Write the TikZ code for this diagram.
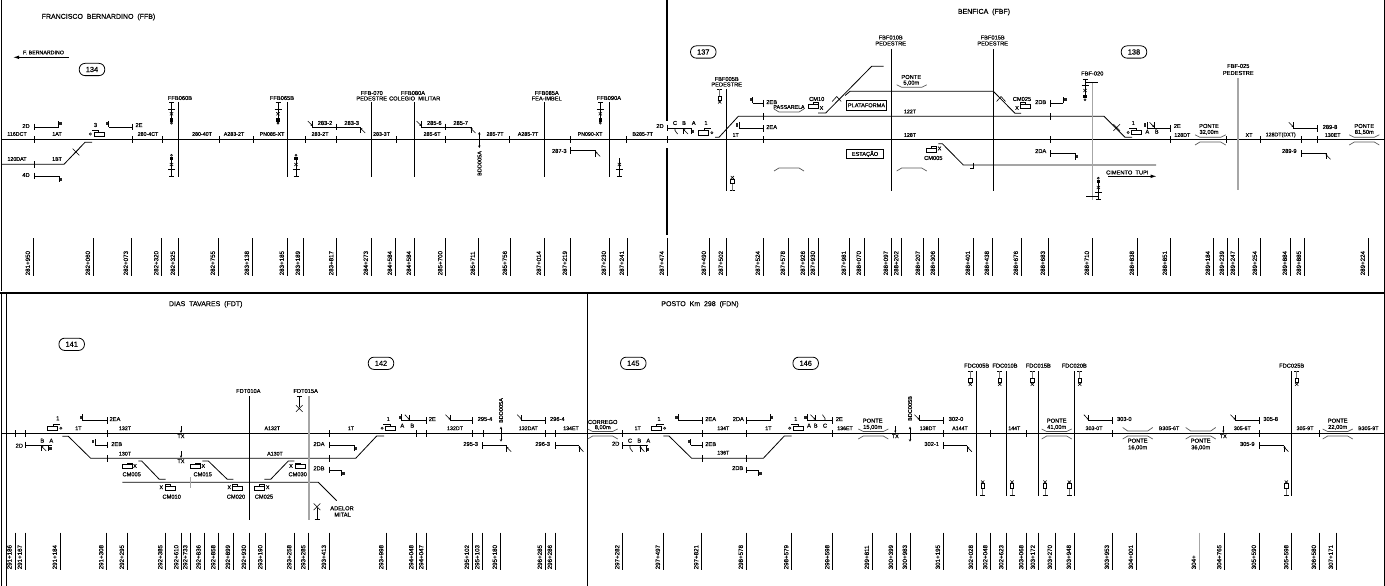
\documentclass[tikz,border=0pt]{standalone}
\usepackage{fontspec}
\setmainfont[FakeBold=0.35]{Liberation Sans}
\usetikzlibrary{arrows.meta}
\newcount\nn
\definecolor{gl}{gray}{0.65}
\tikzset{
  wire/.style={line width=0.8pt,black},
  main/.style={line width=1.1pt,black},
  thin/.style={line width=0.6pt,black},
  gbar/.style={line width=1.5pt,gl},
  gcurve/.style={line width=0.7pt,gray!70!black},
  lab/.style={font=\fontsize{5.3}{5.3}\selectfont,inner sep=0pt},
  tag/.style={font=\fontsize{5.7}{5.7}\selectfont,inner sep=0pt},
  ttl/.style={font=\fontsize{7}{7}\selectfont,inner sep=0pt},
  kml/.style={font=\fontsize{6.2}{6.2}\selectfont,inner sep=0pt,rotate=90,anchor=west},
  oval/.style={draw,line width=0.8pt,rounded corners=5.8pt,minimum width=25.5pt,minimum height=12.3pt,inner sep=0pt,font=\fontsize{7.4}{7.4}\selectfont},
  sqb/.style={draw,line width=0.8pt,inner sep=0pt,font=\fontsize{5.6}{5.6}\selectfont},
  dbl/.style={line width=0.6pt,{Stealth[length=2.5pt,width=2.5pt]}-{Stealth[length=2.5pt,width=2.5pt]}},
}
\newcommand\Tx[4][lab]{\global\advance\nn by 1 \node[#1] (n\the\nn) at (#2,#3) {#4};}
\newcommand\Ov[3]{\global\advance\nn by 1 \node[oval] (n\the\nn) at (#1,#2) {#3};}
\newcommand\KmT[2]{\draw[wire] (#1,238)--(#1,276); \Tx[kml]{#1-5.5}{275.5}{#2}}
\newcommand\KmB[2]{\draw[wire] (#1,532.5)--(#1,570); \Tx[kml]{#1-5.5}{569.5}{#2}}
\newcommand\Tk[2]{\draw[wire] (#1,{#2-3.3})--(#1,{#2+3.3});}
% signal stretch: tick at #1, line to #2, at height #3
\newcommand\Sg[3]{\draw[wire] (#1,#3)--(#2,#3); \Tk{#1}{#3}}
\newcommand\HB[4]{\draw[wire] (#1,#2)--(#1,{#2+#4*6.3});
  \fill[black!85] ({#1+#3*0.6},{#2+#4*3.4-1.6}) rectangle ({#1+#3*3.2},{#2+#4*3.4+1.6});}
\newcommand\HD[4]{\draw[wire] (#1,#2)--(#1,{#2+#4*6});
  \draw[thin,-{Stealth[length=2.2pt,width=2.2pt]}] ({#1+#3*4.5},{#2+#4*6})--({#1-#3*0.4},{#2+#4*1});}
\newcommand\HS[3]{\draw[thin] (#1,#2)--(#1,{#2+#3*2.5})--({#1-#3*-2.6},{#2+#3*6});}
\newcommand\Xm[2]{\draw[thin] ({#1-3.3},{#2-3.3})--({#1+3.3},{#2+3.3}) ({#1-3.3},{#2+3.3})--({#1+3.3},{#2-3.3});}
\newcommand\Xc[2]{\draw[thin] ({#1-4.5},{#2+2.5})--(#1,{#2-2.5})--({#1+4.5},{#2+2.5});}
\newcommand\Pon[4]{\draw[gcurve] (#1,{#3+#4})--({#1+5},#3)--({#2-5},#3)--(#2,{#3+#4});}
\newcommand\ML[2]{\draw[thin] (#1,{#2-2.2}) rectangle ({#1+10},{#2+2.2});
  \draw[thin] ({#1+4.5},{#2-2.2})--({#1+4.5},{#2-4})--({#1-2.5},{#2-4});
  \draw[thin] ({#1-3.6},#2) circle (1.1);}
\newcommand\MR[2]{\draw[thin] (#1,{#2-2.2}) rectangle ({#1+10},{#2+2.2});
  \draw[thin] ({#1+5.5},{#2-2.2})--({#1+5.5},{#2-4})--({#1+12.5},{#2-4});
  \draw[thin] ({#1+13.6},#2) circle (1.1);}
\newcommand\CMr[2]{\draw[thin] (#1,{#2-1.6}) rectangle ({#1+10},{#2+2.4});
  \draw[thin] ({#1+5},{#2-1.6})--({#1+5},{#2-3.2})--({#1+10},{#2-3.2})--({#1+10},{#2-1.6});}
\newcommand\CMl[2]{\draw[thin] (#1,{#2-1.6}) rectangle ({#1+10},{#2+2.4});
  \draw[thin] ({#1+5},{#2-1.6})--({#1+5},{#2-3.2})--(#1,{#2-3.2})--(#1,{#2-1.6});}
% level-crossing signs: full, short, cross-only (t=+1 hangs down, t=-1 stands up)
\newcommand\CrS[3]{\draw[thin] ({#1-3.5},{#2+#3*6.5})--({#1+3.5},{#2+#3*6.5});
  \draw[thin] ({#1-1.6},{#2+#3*10})--({#1+1.6},{#2+#3*13}) ({#1-1.6},{#2+#3*13})--({#1+1.6},{#2+#3*10});
  \draw[wire] ({#1-2.5},#2)--({#1+2.5},#2) (#1,#2)--(#1,{#2+#3*16});}
\newcommand\SgnF[3]{\CrS{#1}{#2}{#3}
  \fill[black] ({#1-1.8},{#2+#3*16}) rectangle ({#1+1.8},{#2+#3*19.5});
  \draw[thin] (#1,{#2+#3*20.8}) circle (1);}
\newcommand\SgnC[3]{\CrS{#1}{#2}{#3}\draw[thin] (#1,{#2+#3*16})--(#1,{#2+#3*18});}
\newcommand\SgnS[3]{\draw[wire] ({#1-2.5},#2)--({#1+2.5},#2);\draw[line width=0.8pt,gl!70!black] (#1,#2)--(#1,{#2+#3*7});
  \draw[wire] ({#1-1.8},{#2+#3*7}) rectangle ({#1+1.8},{#2+#3*11.5});
  \draw[thin] ({#1-1.6},{#2+#3*11.5})--({#1+1.6},{#2+#3*14.5}) ({#1-1.6},{#2+#3*14.5})--({#1+1.6},{#2+#3*11.5});}
\newcommand\TXa[2]{\draw[thin,-{Stealth[length=2.5pt,width=2pt]}] (#1,{#2-6.8})--(#1,#2); \Tx[lab]{#1}{#2+3.2}{TX}}
\begin{document}
\begin{tikzpicture}[x=1pt,y=-1pt]
\useasboundingbox (0,0) rectangle (1385,586);
\fill[white] (0,0) rectangle (1385,586);
% frame
\draw[wire] (1.5,0)--(1.5,291);
\draw[line width=2pt] (0,293)--(1385,293);
\draw[wire] (1.5,294)--(1.5,586) (6,294)--(6,586);
\draw[line width=1pt] (1384,0)--(1384,586);
\draw[main] (667,0)--(667,121) (667,148)--(667,235);
\draw[wire] (587,294)--(587,586);
% ================= TOP ROW
\draw[main] (1.5,139.5)--(1384,139.5);
\foreach \x in {34.5,132.3,162.3,219.3,253.3,305,336.7,396.7,445.7,509.3,570.3,626.3,667,763.3,1050.7,1170.3,1226.3,1260.3,1301.3,1317.3} {\Tk{\x}{139.5}}
\Tx[ttl]{98.5}{17}{FRANCISCO\ \ BERNARDINO\ \ (FFB)}
\Tx[ttl]{984}{12}{BENFICA\ \ (FBF)}
\draw[line width=1pt,-{Latex[length=6pt,width=3.6pt]}] (69,57.3)--(13,57.3);
\Tx[lab]{43.5}{52.5}{F.\ BERNARDINO}
\Ov{92}{69.5}{134}\Ov{703.3}{52}{137}\Ov{1134}{52}{138}
% track labels top
\Tx{17}{134}{116DCT}\Tx{57}{134}{1AT}\Tx{148}{134}{280-4CT}\Tx{202}{134}{280-40T}\Tx{234}{134}{A283-2T}\Tx{272}{134}{PN085-XT}\Tx{320}{134}{283-2T}
\Tx{381.5}{134}{283-3T}\Tx{432}{134}{285-6T}\Tx{495}{134}{285-7T}\Tx{528}{134}{A285-7T}\Tx{590}{134}{PN090-XT}\Tx{642.7}{134}{B285-7T}
\Tx{17}{159}{120DAT}\Tx{57}{159}{1BT}
% left siding
\draw[wire] (1.5,164.3)--(64,164.3)--(85,142.3)--(92,142.3);
\Tk{34.5}{164.3}\Xm{76}{152}
\Tx[tag]{26}{126}{2D}\Sg{34.5}{58.5}{127}\HB{58.5}{127}{1}{-1}
\Tx[tag]{26}{175}{4D}\Sg{34.5}{59}{176}\HB{59}{176}{1}{1}
\Tx[tag]{95.5}{125}{3}\ML{94}{134}
\Sg{132.5}{108.7}{127}\HB{108.7}{127}{-1}{-1}\Tx[tag]{139}{125}{2E}
% level crossings
\Tx[tag]{180}{98}{FFB060B}\draw[wire] (178.5,102)--(178.5,177);
\SgnF{171.5}{102.3}{1}\SgnF{171.5}{176}{-1}
\Tx[tag]{282}{98}{FFB065B}\draw[wire] (287.5,102)--(287.5,177);
\SgnF{278}{102.3}{1}\SgnF{296}{176}{-1}
\Tx[tag]{371.7}{93}{FFB-070}\Tx[tag]{371.7}{98.5}{PEDESTRE}\draw[wire] (371.5,102)--(371.5,177);
\Tx[tag]{413}{93}{FFB080A}\Tx[tag]{414.7}{98.5}{COLEGIO\ \ MILITAR}\draw[wire] (414.3,102)--(414.3,177);
\Tx[tag]{546.7}{93}{FFB085A}\Tx[tag]{546.7}{98.5}{FEA-IMBEL}\draw[wire] (544.3,102)--(544.3,177);
\Tx[tag]{609}{98}{FFB090A}\draw[wire] (609.3,102)--(609.3,177);
\SgnF{600.3}{102.3}{1}\SgnC{619.3}{176}{-1}
% signals
\draw[wire] (312.3,127)--(360.7,127);\HD{312.3}{127}{-1}{-1}\HD{360.7}{127}{1}{1}\Tk{336.7}{127}
\Tx[tag]{325}{123}{283-2}\Tx[tag]{351.7}{123}{283-3}
\draw[wire] (421,127)--(471,127);\HD{421}{127}{-1}{-1}\HD{471}{127}{1}{1}\Tk{445.7}{127}
\Tx[tag]{434.3}{123}{285-6}\Tx[tag]{460.7}{123}{285-7}
\draw[dbl] (479.3,132)--(479.3,148);
\Tx[font=\fontsize{5.6}{5.6}\selectfont,inner sep=0pt,rotate=90]{479.5}{163.5}{BDD005A}
\Sg{570.3}{595.7}{150.5}\HD{595.7}{150.5}{1}{1}\Tx[tag]{559.3}{151}{287-3}
\Tx[tag]{660}{126}{2D}
\Sg{667}{692}{128}\HS{675}{128}{1}\HD{683.5}{128}{1}{1}\HB{691}{128}{1}{1}
\Tx[tag]{675}{123}{C}\Tx[tag]{684}{123}{B}\Tx[tag]{693.7}{123}{A}
\Tx[tag]{706}{123}{1}\MR{698.3}{132.7}
% Benfica tracks
\draw[wire] (715,137.3)--(719,137.3)--(738.3,116.3)--(1104,116.3)--(1125,137.3)--(1132,137.3);
\Tk{763.3}{116.3}\Tk{1050.7}{116.3}\Xm{1116.7}{127.5}
\Tx[tag]{726.7}{79}{FBF005B}\Tx[tag]{726.7}{84.5}{PEDESTRE}\draw[wire] (726.3,89)--(726.3,190.7);
\SgnS{719.7}{89}{1}\SgnS{732.3}{190.5}{-1}
\Sg{763.3}{752.7}{103.3}\HB{752.7}{103.3}{-1}{-1}\Tx[tag]{771.7}{102}{2EB}
\Sg{763.3}{739}{128.3}\HB{739}{128.3}{-1}{-1}\Tx[tag]{771.7}{127}{2EA}
\Tx{735.7}{135}{1T}
\Tx{789}{107}{PASSARELA}\Pon{774}{804}{112}{-3}\Pon{774}{804}{168}{3}
\Tx[tag]{816.7}{99}{CM10}\CMr{808.3}{106}\Tx{821.5}{108}{X}
\draw[wire] (818,113)--(825.7,113)--(871.7,66.3)--(883.7,66.3);
\draw[wire] (845,95.5)--(850,91.3)--(993.3,91.3)--(1015,113.3)--(1021,113.3);
\Xc{836.7}{99}\Xc{1001}{99}
\node[sqb,minimum width=40.4pt,minimum height=10pt] (plat) at (866.5,105.3) {PLATAFORMA};
\node[sqb,minimum width=37.4pt,minimum height=9.4pt] (esta) at (865,154) {ESTAÇÃO};
\Tx[tag]{890.7}{37.5}{FBF010B}\Tx[tag]{890.7}{43.5}{PEDESTRE}\draw[wire] (891.3,49)--(891.3,190.7);
\Tx[tag]{992.7}{37.5}{FBF015B}\Tx[tag]{992.7}{43.5}{PEDESTRE}\draw[wire] (993.3,49)--(993.3,190.7);
\Tx[tag]{911.3}{77}{PONTE}\Tx[tag]{911.3}{83}{5,00m}\Pon{896.7}{926.7}{87.3}{-2.5}\Pon{896.7}{926.7}{168}{3}
\Tx{910}{111.5}{122T}\Tx{910}{135}{128T}
\draw[wire] (1156,165)--(963.3,165)--(942.3,143.7)--(938.3,143.7);
\draw[wire] (973.3,162.5)--(973.3,168.7)--(970,168.7);
\CMr{926.7}{149.7}\Tx{939.5}{148.5}{X}\Tx[tag]{933.3}{158}{CM005}
\Tx[tag]{1022}{99}{CM025}\CMl{1020.7}{106}\Tx{1017}{108}{X}
\Tx[tag]{1040.7}{102}{2DB}\Sg{1050.7}{1063.3}{103.3}\HB{1063.3}{103.3}{1}{-1}
\Tx[tag]{1040.7}{151}{2DA}\Sg{1050.7}{1075}{153.3}\HB{1075}{153.3}{1}{1}
\Tx[tag]{1092.3}{73.5}{FBF-020}\draw[gbar] (1092.3,82)--(1092.3,200);
\draw[wire] (1085,82.3)--(1097.7,82.3) (1086,196.7)--(1098.3,196.7);
\SgnF{1085}{79}{1}\SgnF{1098.3}{199}{-1}
\Tx[tag]{1133.3}{123}{1}\ML{1131.7}{132.5}
\Sg{1170.3}{1147}{128.3}\HB{1147}{128.3}{-1}{-1}\HD{1154}{128.3}{-1}{-1}
\Tx[tag]{1147.3}{131.7}{A}\Tx[tag]{1156.7}{131.7}{B}\Tx[tag]{1177.3}{126}{2E}\Tx{1182.3}{135}{128DT}
\Tx[tag]{1209}{126}{PONTE}\Tx[tag]{1209}{132.3}{32,00m}\Pon{1195}{1225.7}{137.3}{-2.5}\Pon{1195}{1225.7}{142}{3}
\Tx[tag]{1238.3}{66}{FBF-025}\Tx[tag]{1238.3}{73}{PEDESTRE}\draw[gbar] (1238,78)--(1238,190);
\Tx{1249}{135}{XT}\Tx{1280.7}{135}{128DT(DXT)}\Tx{1332.7}{135}{130ET}
\draw[wire] (1293.3,128.3)--(1317.3,128.3);\HD{1293.3}{128.3}{-1}{-1}\Tk{1317.3}{128.3}\Tx[tag]{1330}{127}{289-8}
\Sg{1301.3}{1326}{153.3}\HD{1326}{153.3}{1}{1}\Tx[tag]{1289.3}{151}{289-9}
\Tx[tag]{1364.3}{126}{PONTE}\Tx[tag]{1364.3}{132.3}{81,50m}\Pon{1349.3}{1379.3}{137.3}{-2.5}\Pon{1349.3}{1379.3}{142}{3}
\Tx[tag]{1127.3}{172.5}{CIMENTO\ \ TUPI}
\draw[line width=1pt,-{Latex[length=6pt,width=3.6pt]}] (1108.3,176.3)--(1156.7,176.3);
% km top
\KmT{33.3}{281+950}\KmT{93.3}{282+060}\KmT{131.3}{282+073}\KmT{161.7}{282+320}\KmT{178.3}{282+325}\KmT{218.3}{282+755}\KmT{252.3}{283+138}\KmT{287.3}{283+185}\KmT{303.3}{283+189}\KmT{336.7}{283+817}
\KmT{371.3}{284+273}\KmT{395.3}{284+584}\KmT{414.3}{284+584}\KmT{445.7}{285+700}\KmT{478.3}{285+711}\KmT{510.3}{285+756}\KmT{544.3}{287+014}\KmT{570.3}{287+219}\KmT{609.3}{287+230}\KmT{627.3}{287+241}\KmT{667.3}{287+474}
\KmT{709.3}{287+490}\KmT{726.3}{287+502}\KmT{763.3}{287+524}\KmT{788.3}{287+578}\KmT{808.3}{287+926}\KmT{818.3}{287+930}\KmT{849.3}{287+981}\KmT{864.3}{288+070}\KmT{891.3}{288+097}\KmT{901.7}{288+202}\KmT{923.3}{288+207}\KmT{938.3}{288+306}\KmT{973.3}{288+401}\KmT{992.3}{288+438}\KmT{1021.3}{288+676}
\KmT{1048.3}{288+683}\KmT{1092.3}{288+710}\KmT{1137.3}{288+838}\KmT{1170.3}{288+851}\KmT{1213.3}{289+184}\KmT{1227.3}{289+239}\KmT{1238.3}{289+247}\KmT{1260.3}{289+254}\KmT{1290.3}{289+884}\KmT{1304.3}{289+885}\KmT{1368.3}{289+224}
% ================= BOTTOM ROW
\draw[main] (1.5,433.3)--(1384,433.3);
\foreach \x in {15,25.3,107.3,329.3,416.7,426.7,472.3,483.3,545.3,555.3,622.7,702.7,746.3,832.7,943.3,990.7,1026.7,1112.3,1259.3,1319.3} {\Tk{\x}{433.3}}
\Tx[ttl]{205.7}{304.3}{DIAS\ \ TAVARES\ \ (FDT)}
\Tx[ttl]{700}{304.3}{POSTO\ \ Km\ \ 298\ \ (FDN)}
\Ov{71.7}{344.3}{141}\Ov{381}{363.3}{142}\Ov{633.3}{363.3}{145}\Ov{805.7}{363.3}{146}
\Tx[tag]{19.3}{445.7}{2D}\Sg{25.3}{51.7}{445}\HD{41.7}{445}{1}{1}\HB{48.7}{445}{1}{1}
\Tx[tag]{42.3}{440.7}{B}\Tx[tag]{51.3}{440.7}{A}
\Tx[tag]{57.7}{418.3}{1}\MR{47.3}{428.2}
\draw[wire] (62.3,436.3)--(68.3,436.3)--(90.7,458.3)--(355.7,458.3)--(376.7,436)--(384,436);
\Tk{107.3}{458.3}\Tk{329.3}{458.3}
\Sg{107.3}{82.7}{420.7}\HB{82.7}{420.7}{-1}{-1}\Tx[tag]{115}{419}{2EA}
\Sg{107.3}{95}{445}\HB{95}{445}{-1}{-1}\Tx[tag]{116.7}{444}{2EB}
\Tx{78.3}{428.3}{1T}\Tx{125}{428.3}{132T}\Tx{272.3}{428.3}{A132T}\Tx{125}{453.7}{130T}\Tx{275}{453.7}{A130T}
\TXa{181}{433}\TXa{181}{458}
\draw[wire] (122.3,482.3)--(318.3,482.3)--(336.7,500.7);
\draw[line width=0.7pt,gl] (190.7,477)--(190.7,487.5);
\draw[wire] (138.3,461)--(141.7,461)--(159.3,479.3)--(165.7,479.3);
\draw[wire] (202.3,461)--(208.3,461)--(227.3,479.3)--(233.3,479.3);
\draw[wire] (264.3,479.3)--(270.7,479.3)--(288.3,461)--(294.3,461);
\CMr{122.3}{466}\Tx{135}{466}{X}\Tx[tag]{131.7}{474.3}{CM005}
\CMr{190.7}{466}\Tx{203.3}{466}{X}\Tx[tag]{202.7}{474.3}{CM015}
\CMl{295}{466}\Tx{291}{466}{X}\Tx[tag]{297.7}{474.3}{CM030}
\CMl{165}{487.5}\Tx{161.3}{487.3}{X}\Tx[tag]{171.7}{496.7}{CM010}
\CMl{232.3}{487.5}\Tx{229.3}{487.3}{X}\Tx[tag]{236}{496.7}{CM020}
\CMr{254.3}{487.5}\Tx{267.7}{487.3}{X}\Tx[tag]{264}{496.7}{CM025}
\Tx[tag]{248.3}{391}{FDT010A}\draw[wire] (249.3,396)--(249.3,520);
\Tx[tag]{305.7}{391}{FDT015A}\draw[gbar] (309,396)--(309,520);
\draw[wire] (296.8,396.7)--(301.8,396.7) (299.3,396.7)--(299.3,407); \Xm{299.3}{408.5}
\draw[wire] (314.5,519.3)--(319.5,519.3) (317,519.3)--(317,508); \Xm{317}{506.8}
\Tx[tag]{342}{508.3}{ADELOR}\Tx[tag]{342.5}{514.7}{MITAL}
\Tx[tag]{319}{444}{2DA}\Sg{329.3}{354}{445}\HB{354}{445}{1}{1}
\Tx[tag]{319}{468.3}{2DB}\Sg{329.3}{341.7}{470}\HB{341.7}{470}{1}{1}
\Tx[tag]{388.3}{419}{1}\ML{385.7}{428.2}\Tx{351}{428.3}{1T}
\Sg{426.7}{401.7}{420.7}\HB{401.7}{420.7}{-1}{-1}\HD{409.3}{420.7}{-1}{-1}
\Tx[tag]{402.3}{425.7}{A}\Tx[tag]{412.3}{425.7}{B}\Tx[tag]{432.3}{419}{2E}
\Tx{455}{428.3}{132DT}\Tx{528.3}{428.3}{132DAT}\Tx{571}{428.3}{134ET}
\draw[wire] (450,420.7)--(472.3,420.7);\HD{450}{420.7}{-1}{-1}\Tk{472.3}{420.7}\Tx[tag]{485}{419}{295-4}
\draw[wire] (521.7,420.7)--(545.3,420.7);\HD{521.7}{420.7}{-1}{-1}\Tk{545.3}{420.7}\Tx[tag]{557.3}{419}{296-4}
\Sg{482.7}{506.7}{445.7}\HD{506.7}{445.7}{1}{1}\Tx[tag]{470.7}{444}{295-3}
\Sg{555.3}{579}{445.7}\HD{579}{445.7}{1}{1}\Tx[tag]{542.7}{444}{296-3}
\draw[dbl] (501,426.7)--(501,441.7);
\Tx[font=\fontsize{5.6}{5.6}\selectfont,inner sep=0pt,rotate=90]{501}{410.5}{BDD005A}
\Tx[tag]{602.7}{422}{CORREGO}\Tx[tag]{602.7}{427.5}{8,00m}\Pon{587.7}{617.7}{431.5}{-2.5}\Pon{587.7}{617.7}{436}{3}
\Tx[tag]{615.7}{443.7}{2D}\Sg{622.7}{648}{445.7}\HS{630}{445.7}{1}\HD{640}{445.7}{1}{1}\HB{646}{445.7}{1}{1}
\Tx[tag]{630}{440.7}{C}\Tx[tag]{639.3}{440.7}{B}\Tx[tag]{648.3}{440.7}{A}
\Tx{637.7}{428.3}{1T}\Tx[tag]{659}{419}{1}\MR{651}{428.2}
\draw[wire] (663.3,436)--(669,436)--(691.7,458.3)--(763.3,458.3)--(784.3,436)--(791.7,436);
\Tk{702.7}{458.3}\Tk{746.3}{458.3}
\Sg{702.7}{678.3}{420.7}\HB{678.3}{420.7}{-1}{-1}\Tx[tag]{710.7}{419}{2EA}
\Sg{702.7}{690.7}{445}\HB{690.7}{445}{-1}{-1}\Tx[tag]{710.7}{444}{2EB}
\Tx{723.3}{428.3}{134T}\Tx{723.3}{452.7}{136T}\Tx{768.3}{428.3}{1T}
\Sg{746.3}{770}{420.7}\HB{770}{420.7}{1}{-1}\Tx[tag]{738.3}{419}{2DA}
\Sg{746.3}{758.3}{470}\HB{758.3}{470}{1}{1}\Tx[tag]{737.7}{468}{2DB}
\Tx[tag]{795.7}{419}{1}\ML{793.3}{428.2}
\Sg{832.7}{807.3}{420.7}\HB{807.3}{420.7}{-1}{-1}\HD{815}{420.7}{-1}{-1}\HS{825}{420.7}{-1}
\Tx[tag]{809}{425.7}{A}\Tx[tag]{815.7}{425.7}{B}\Tx[tag]{825}{425.7}{C}\Tx[tag]{839.3}{419}{2E}
\Tx{845}{428.3}{136ET}
\Tx[tag]{872.7}{420.7}{PONTE}\Tx[tag]{872.7}{427.3}{15,00m}\Pon{858.3}{888.3}{431.5}{-2.5}\Pon{858.3}{888.3}{436}{3}
\TXa{895.3}{433}
\draw[dbl] (910,426.7)--(910,441.7);
\Tx[font=\fontsize{5.6}{5.6}\selectfont,inner sep=0pt,rotate=90]{910}{408.5}{BDC005B}
\draw[wire] (919,420.7)--(943.3,420.7);\HD{919}{420.7}{-1}{-1}\Tk{943.3}{420.7}\Tx[tag]{956}{419}{302-0}
\Tx{927.7}{428.3}{138DT}\Tx{960}{428.3}{A144T}\Tx{1014.3}{428.3}{144T}
\Sg{943.3}{967.3}{445.7}\HD{967.3}{445.7}{1}{1}\Tx[tag]{931.7}{444}{302-1}
\Tx[tag]{976.7}{365.7}{FDC005B}\draw[wire] (976.3,371)--(976.3,495.7);\SgnS{970.3}{371.3}{1}\SgnS{982.7}{495}{-1}
\Tx[tag]{1005}{365.7}{FDC010B}\draw[wire] (1006.7,371)--(1006.7,495.7);\SgnS{999.7}{371.3}{1}\SgnS{1012}{495}{-1}
\Tx[tag]{1038.3}{365.7}{FDC015B}\draw[wire] (1038.3,371)--(1038.3,495.7);\SgnS{1032.3}{371.3}{1}\SgnS{1045}{495}{-1}
\Tx[tag]{1074.3}{365.7}{FDC020B}\draw[wire] (1074.3,371)--(1074.3,495.7);\SgnS{1079.7}{371.3}{1}\SgnS{1069.3}{495}{-1}
\Tx[tag]{1291.7}{365.7}{FDC025B}\draw[wire] (1291.7,371)--(1291.7,495.7);\SgnS{1296.7}{371.3}{1}\SgnS{1286.3}{495}{-1}
\Tx[tag]{1056.7}{420.7}{PONTE}\Tx[tag]{1056.7}{427.3}{41,00m}\Pon{1041.7}{1071.7}{431.5}{-2.5}\Pon{1041.7}{1071.7}{436}{3}
\draw[wire] (1088.3,420.7)--(1112.3,420.7);\HD{1088.3}{420.7}{-1}{-1}\Tk{1112.3}{420.7}\Tx[tag]{1124.3}{419}{303-0}
\Tx{1094}{428.3}{303-0T}\Tx{1169}{428.3}{B305-6T}\Tx{1242.3}{428.3}{305-6T}\Tx{1305}{428.3}{305-9T}\Tx{1368.3}{428.3}{B305-9T}
\Pon{1122.7}{1152.7}{431}{-3.5}\Pon{1122.7}{1152.7}{436}{3}\Tx[tag]{1137.7}{440.7}{PONTE}\Tx[tag]{1137.7}{447.7}{16,00m}
\Pon{1185.7}{1215.7}{431}{-3.5}\Pon{1185.7}{1215.7}{436}{3}\Tx[tag]{1200.7}{440.7}{PONTE}\Tx[tag]{1200.7}{447.7}{36,00m}
\TXa{1223.3}{433}
\draw[wire] (1235,420.7)--(1259.3,420.7);\HD{1235}{420.7}{-1}{-1}\Tk{1259.3}{420.7}\Tx[tag]{1270.7}{419}{305-8}
\Sg{1259.3}{1284}{445.7}\HD{1284}{445.7}{1}{1}\Tx[tag]{1247.3}{444}{305-9}
\Tx[tag]{1337.7}{420.7}{PONTE}\Tx[tag]{1337.7}{427.3}{22,00m}\Pon{1322.7}{1352.7}{431.5}{-2.5}\Pon{1322.7}{1352.7}{436}{3}
% km bottom
\KmB{15}{291+186}\KmB{25.3}{291+167}\KmB{60.3}{291+184}\KmB{106.7}{291+308}\KmB{127.3}{292+295}\KmB{165.7}{292+385}\KmB{181.7}{292+610}\KmB{190.7}{292+733}\KmB{204}{292+836}\KmB{218.7}{292+858}\KmB{233.3}{292+899}\KmB{249.3}{292+930}\KmB{265.7}{293+190}\KmB{294.7}{293+258}\KmB{308.7}{293+285}\KmB{329.3}{293+413}
\KmB{386.7}{293+998}\KmB{416.7}{294+048}\KmB{426.7}{294+047}\KmB{472.3}{295+102}\KmB{482.7}{295+103}\KmB{500.3}{295+180}\KmB{545.3}{296+285}\KmB{555.3}{296+286}\KmB{622.7}{297+282}\KmB{663.3}{297+497}
\KmB{701.7}{297+821}\KmB{746.3}{298+578}\KmB{791.7}{298+579}\KmB{832.7}{299+598}\KmB{872.3}{299+811}\KmB{896.3}{300+399}\KmB{910.3}{300+983}\KmB{943.3}{301+195}\KmB{976.3}{302+028}\KmB{990.7}{302+048}\KmB{1006.7}{302+623}\KmB{1026.7}{303+068}
\KmB{1038.3}{303+172}\KmB{1055.3}{303+270}\KmB{1074.3}{303+948}\KmB{1112.3}{303+953}\KmB{1136.3}{304+001}
\draw[line width=0.7pt,gl] (1199.3,532.5)--(1199.3,570);\Tx[kml]{1193.8}{569.5}{304+}
\KmB{1224.7}{304+765}\KmB{1259.3}{305+590}\KmB{1291.7}{305+598}\KmB{1319.3}{306+580}\KmB{1336.3}{307+171}
\end{tikzpicture}
\end{document}
